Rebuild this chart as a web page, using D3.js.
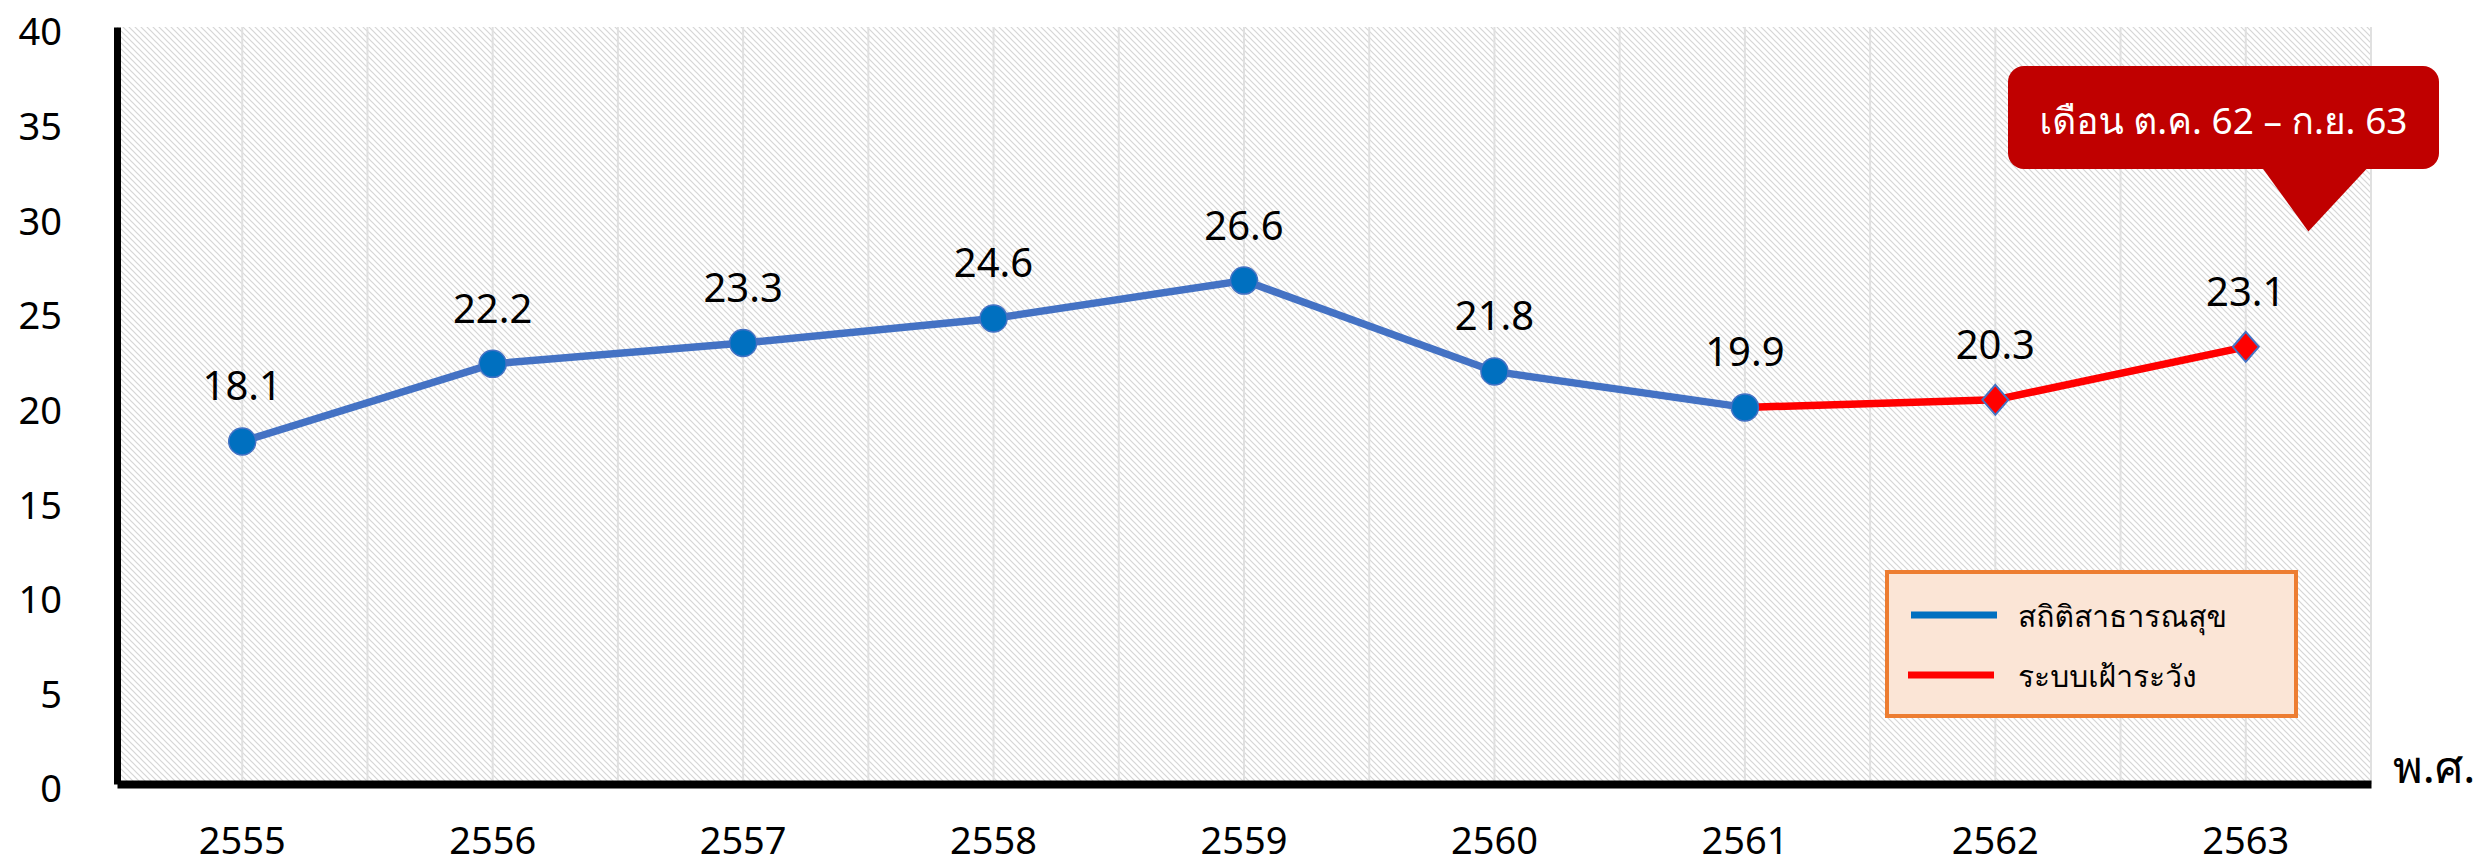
<!DOCTYPE html>
<html>
<head>
<meta charset="utf-8">
<script src="https://cdn.jsdelivr.net/npm/d3@7"></script>
<style>
  body { margin: 0; background: #fff; }
  svg text { font-family: "Noto Sans", "Loma", "Garuda", "Tlwg Typo", "Noto Sans Thai", sans-serif; }
</style>
</head>
<body>
<div id="chart"></div>
<script>
// years on the x axis (Buddhist era)
const years = ["2555", "2556", "2557", "2558", "2559", "2560", "2561", "2562", "2563"];
// สถิติสาธารณสุข
const statYears = ["2555", "2556", "2557", "2558", "2559", "2560", "2561"];
const statValues = [18.1, 22.2, 23.3, 24.6, 26.6, 21.8, 19.9];
// ระบบเฝ้าระวัง
const survYears = ["2561", "2562", "2563"];
const survValues = [19.9, 20.3, 23.1];
const yTicks = [0, 5, 10, 15, 20, 25, 30, 35, 40];
const legendNames = ["สถิติสาธารณสุข", "ระบบเฝ้าระวัง"];
const calloutText = "เดือน ต.ค. 62 – ก.ย. 63";

const W = 2474, H = 866;
const margin = {top: 27, right: 103, bottom: 82, left: 117};

const svg = d3.select("#chart").append("svg")
    .attr("width", W)
    .attr("height", H);

//hatched background pattern
const defs = svg.append("defs");
const pat = defs.append("pattern")
    .attr("id", "hatch")
    .attr("patternUnits", "userSpaceOnUse")
    .attr("width", 6).attr("height", 6);
pat.append("rect").attr("width", 6).attr("height", 6).attr("fill", "#ffffff");
pat.append("path")
    .attr("d", "M-1,-1 L7,7 M-1,5 L1,7 M5,-1 L7,1")
    .attr("stroke", "#d6d6d6")
    .attr("stroke-width", 1.2);

let x = d3.scaleBand()
    .domain(years)
    .range([margin.left, W - margin.right]);
let y = d3.scaleLinear()
    .domain([0, 40])
    .range([H - margin.bottom, margin.top]);
let xc = d => x(d) + x.bandwidth() / 2;

svg.append("rect")
    .attr("x", margin.left)
    .attr("y", margin.top)
    .attr("width", W - margin.right - margin.left)
    .attr("height", H - margin.bottom - margin.top)
    .attr("fill", "url(#hatch)");

// vertical gridlines every half category
let gridX = [];
years.forEach(d => { gridX.push(x(d) + x.bandwidth() / 2); gridX.push(x(d) + x.bandwidth()); });
svg.append("g").selectAll("line")
    .data(gridX)
    .enter().append("line")
    .attr("x1", d => d).attr("x2", d => d)
    .attr("y1", y(40)).attr("y2", y(0))
    .attr("stroke", "#e0e0e0")
    .attr("stroke-width", 2);

// axes
let yAxis = svg.append("g")
    .attr("transform", "translate(" + margin.left + ",0)")
    .call(d3.axisLeft(y).tickValues(yTicks).tickSize(0).tickSizeOuter(0).tickPadding(55));
yAxis.select(".domain").attr("stroke", "#000").attr("stroke-width", 7);
yAxis.selectAll("text")
    .attr("font-size", 38)
    .attr("fill", "#000")
    .attr("dy", "0.47em");

let xAxis = svg.append("g")
    .attr("transform", "translate(0," + y(0) + ")")
    .call(d3.axisBottom(x).tickSize(0).tickSizeOuter(0).tickPadding(43));
xAxis.select(".domain").attr("stroke", "#000").attr("stroke-width", 8);
xAxis.selectAll("text")
    .attr("font-size", 38)
    .attr("fill", "#000");

svg.append("text")
    .attr("x", W - margin.right + 22)
    .attr("y", y(0) - 1)
    .attr("font-size", 45)
    .attr("fill", "#000")
    .text("พ.ศ.");

// lines
let line = d3.line().x(d => xc(d.year)).y(d => y(d.value));
let statData = statYears.map((d, i) => ({year: d, value: statValues[i]}));
let survData = survYears.map((d, i) => ({year: d, value: survValues[i]}));

svg.append("path")
    .datum(survData)
    .attr("d", line)
    .attr("fill", "none")
    .attr("stroke", "#ff0000")
    .attr("stroke-width", 7.5);

svg.append("path")
    .datum(statData)
    .attr("d", line)
    .attr("fill", "none")
    .attr("stroke", "#4472c4")
    .attr("stroke-width", 7.5);

svg.append("g").selectAll("circle")
    .data(statData)
    .enter().append("circle")
    .attr("cx", d => xc(d.year))
    .attr("cy", d => y(d.value))
    .attr("r", 13.5)
    .attr("fill", "#0070c0")
    .attr("stroke", "#4472c4")
    .attr("stroke-width", 1.5);

svg.append("g").selectAll("path")
    .data(survData.slice(1))
    .enter().append("path")
    .attr("transform", d => "translate(" + xc(d.year) + "," + y(d.value) + ")")
    .attr("d", "M0,-15 L13,0 L0,15 L-13,0 Z")
    .attr("fill", "#ff0000")
    .attr("stroke", "#4472c4")
    .attr("stroke-width", 2);

// data labels
let labelData = statData.concat(survData.slice(1));
svg.append("g").selectAll("text")
    .data(labelData)
    .enter().append("text")
    .attr("x", d => xc(d.year))
    .attr("y", d => y(d.value) - 41)
    .attr("text-anchor", "middle")
    .attr("font-size", 40)
    .attr("fill", "#000")
    .text(d => d.value.toFixed(1));

// legend
let lg = svg.append("g").attr("transform", "translate(1887,572)");
lg.append("rect")
    .attr("width", 409).attr("height", 144)
    .attr("fill", "#fbe5d6")
    .attr("stroke", "#ed7d31")
    .attr("stroke-width", 4);
let legColors = ["#0070c0", "#ff0000"];
legendNames.forEach((name, i) => {
    lg.append("line")
        .attr("x1", 24 - i * 3).attr("x2", 110 - i * 3)
        .attr("y1", 43 + i * 60).attr("y2", 43 + i * 60)
        .attr("stroke", legColors[i])
        .attr("stroke-width", 7);
    lg.append("text")
        .attr("x", 131)
        .attr("y", 55 + i * 60)
        .attr("font-size", 30)
        .attr("fill", "#000")
        .text(name);
});

// callout
let tipX = xc("2563") + x.bandwidth() * 0.25;
let tipY = y(29.2);
let boxR = W - 35, boxL = boxR - 431, boxT = 66, boxB = 169;
let callout = svg.append("g");
callout.append("rect")
    .attr("x", boxL).attr("y", boxT)
    .attr("width", boxR - boxL).attr("height", boxB - boxT)
    .attr("rx", 16)
    .attr("fill", "#c00000");
callout.append("path")
    .attr("d", "M" + (tipX - 46) + "," + (boxB - 1) + " L" + (tipX + 59) + "," + (boxB - 1) + " L" + tipX + "," + tipY + " Z")
    .attr("fill", "#c00000");
callout.append("text")
    .attr("x", (boxL + boxR) / 2)
    .attr("y", 134)
    .attr("text-anchor", "middle")
    .attr("font-size", 37)
    .attr("fill", "#fff")
    .text(calloutText);
</script>
</body>
</html>
